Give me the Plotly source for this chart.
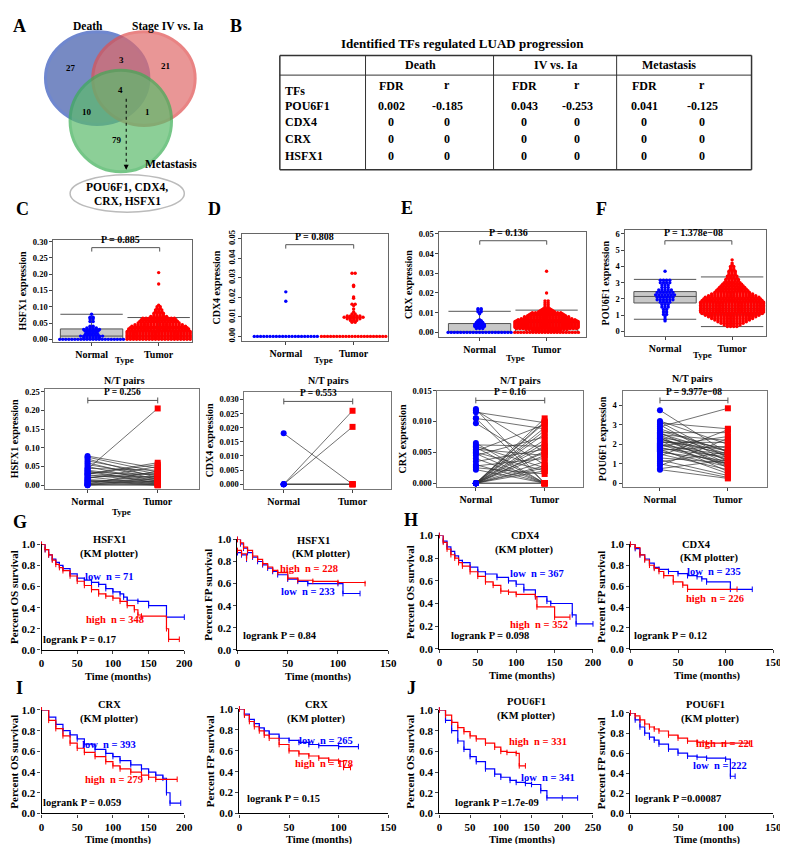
import plotly.graph_objects as go

W, H = 788, 844
FONT = "Liberation Serif"
BLUE, RED = "#0000ff", "#ff0000"

# ---------------- A: Venn ----------------
venn_labels = ["Death", "Stage IV vs. Ia", "Metastasis"]
venn_regions = [27, 21, 79, 3, 10, 1, 4]  # D, S, M, D&S, D&M, S&M, all three
venn_common = ["POU6F1, CDX4,", "CRX, HSFX1"]

# ---------------- B: table ----------------
tbl_title = "Identified TFs regulated LUAD progression"
tbl_groups = ["Death", "IV vs. Ia", "Metastasis"]
tbl_tfs = ["POU6F1", "CDX4", "CRX", "HSFX1"]
tbl_fdr = [[0.002, 0.043, 0.041], [0, 0, 0], [0, 0, 0], [0, 0, 0]]
tbl_r = [[-0.185, -0.253, -0.125], [0, 0, 0], [0, 0, 0], [0, 0, 0]]

# ---------------- C-F: expression (value level, number of samples) ----------------
hsfx1_n_lv = [0.0, 0.005, 0.01, 0.015, 0.02, 0.025, 0.03, 0.035, 0.04, 0.055, 0.063, 0.068, 0.077]
hsfx1_n_ct = [22, 6, 8, 5, 4, 5, 6, 4, 2, 2, 2, 2, 1]
hsfx1_t_lv = [0.0, 0.004, 0.008, 0.012, 0.016, 0.02, 0.024, 0.028, 0.032, 0.036, 0.04, 0.045, 0.05,
              0.055, 0.06, 0.065, 0.07, 0.075, 0.08, 0.085, 0.09, 0.095, 0.1, 0.105, 0.17, 0.205]
hsfx1_t_ct = [21, 21, 21, 21, 21, 21, 21, 20, 20, 19, 18, 16, 14, 13, 12, 11, 6, 4, 4, 3, 3, 2, 2, 1, 1, 1]
hsfx1_box_n = [0.0, 0.0, 0.01, 0.032, 0.077]   # lower, q1, median, q3, upper
hsfx1_box_t = [0.0, 0.0, 0.01, 0.028, 0.067]

cdx4_n_lv = [0.0, 0.018, 0.0228]
cdx4_n_ct = [21, 1, 1]
cdx4_t_lv = [0.0, 0.0072, 0.0082, 0.009, 0.0098, 0.0105, 0.0115, 0.0125, 0.014, 0.0158, 0.0165,
             0.0195, 0.0202, 0.0255, 0.0262, 0.0323]
cdx4_t_ct = [22, 2, 3, 5, 7, 5, 2, 1, 1, 1, 2, 1, 1, 1, 1, 2]

crx_n_lv = [0.0, 0.002, 0.0025, 0.003, 0.0035, 0.004, 0.0045, 0.005, 0.0055, 0.006, 0.0065,
            0.0095, 0.0105, 0.0115, 0.012]
crx_n_ct = [21, 3, 3, 4, 4, 4, 3, 3, 2, 2, 1, 1, 2, 2, 2]
crx_t_lv = [0.0, 0.0005, 0.001, 0.0015, 0.002, 0.0025, 0.003, 0.0035, 0.004, 0.0045, 0.005, 0.0055,
            0.006, 0.0065, 0.007, 0.0075, 0.008, 0.0085, 0.009, 0.0095, 0.01, 0.0105, 0.011, 0.0115,
            0.012, 0.013, 0.014, 0.015, 0.016, 0.02, 0.031]
crx_t_ct = [22, 6, 10, 14, 20, 21, 21, 21, 21, 21, 21, 21, 20, 19, 17, 15, 15, 13, 12, 11, 10, 6, 5, 4,
            3, 2, 2, 2, 2, 1, 1]
crx_box_n = [0.0, 0.0, 0.0, 0.0045, 0.0107]
crx_box_t = [0.0, 0.0, 0.0025, 0.005, 0.0113]

pou_n_lv = [0.65, 0.75, 0.9, 1.05, 1.2, 1.35, 1.5, 1.65, 1.8, 1.95, 2.1, 2.25, 2.4, 2.55, 2.7, 2.85,
            3.0, 3.15, 3.7]
pou_n_ct = [1, 1, 1, 2, 2, 2, 3, 3, 4, 6, 6, 7, 6, 5, 3, 3, 4, 4, 1]
pou_t_lv = [0.3, 0.4, 0.5, 0.6, 0.7, 0.8, 0.9, 1.0, 1.1, 1.2, 1.3, 1.4, 1.5, 1.6, 1.7, 1.8, 1.9, 2.0,
            2.1, 2.2, 2.3, 2.4, 2.5, 2.6, 2.7, 2.8, 2.9, 3.0, 3.1, 3.2, 3.3, 3.4, 3.5, 3.6, 3.7, 3.8,
            3.9, 4.0, 4.1, 4.2, 4.4]
pou_t_ct = [4, 6, 8, 10, 12, 14, 16, 18, 20, 21, 21, 21, 21, 21, 21, 21, 20, 19, 18, 16, 14, 12, 11,
            10, 9, 8, 7, 6, 5, 5, 4, 4, 3, 3, 3, 2, 2, 2, 1, 1, 1]
pou_box_n = [0.75, 1.75, 2.15, 2.45, 3.2]
pou_box_t = [0.3, 1.05, 1.4, 1.85, 3.35]

# ---------------- paired normal / tumour ----------------
hsfx1_pair_n = [0.078, 0.075, 0.070, 0.065, 0.060, 0.055, 0.050, 0.045, 0.043, 0.040, 0.038, 0.035,
                0.033, 0.030, 0.028, 0.025, 0.022, 0.020, 0.018, 0.015, 0.013, 0.010, 0.008, 0.006,
                0.004, 0.003, 0.002, 0.001, 0.000, 0.000, 0.030, 0.012]
hsfx1_pair_t = [0.045, 0.035, 0.020, 0.030, 0.015, 0.025, 0.010, 0.040, 0.205, 0.018, 0.005, 0.028,
                0.012, 0.060, 0.008, 0.022, 0.003, 0.033, 0.050, 0.006, 0.002, 0.015, 0.025, 0.010,
                0.001, 0.038, 0.004, 0.020, 0.000, 0.012, 0.055, 0.000]
cdx4_pair_n = [0.018, 0.0, 0.0, 0.0, 0.0, 0.0]
cdx4_pair_t = [0.0, 0.026, 0.0203, 0.0, 0.0, 0.0]
crx_pair_n = [0.012, 0.0118, 0.0115, 0.0105, 0.0097, 0.0065, 0.0062, 0.0058, 0.0055, 0.0052, 0.005,
              0.0048, 0.0045, 0.004, 0.0035, 0.003, 0.0028, 0.0025, 0.0022, 0.0, 0.0, 0.0, 0.0, 0.0,
              0.0, 0.0, 0.0, 0.0, 0.0, 0.0, 0.0, 0.0, 0.0, 0.0, 0.0, 0.0, 0.0, 0.0105, 0.006]
crx_pair_t = [0.0, 0.005, 0.0098, 0.0, 0.003, 0.0, 0.006, 0.0, 0.0045, 0.0095, 0.002, 0.0, 0.0075,
              0.0, 0.0055, 0.0, 0.004, 0.0015, 0.0, 0.0105, 0.01, 0.0098, 0.009, 0.0085, 0.008, 0.007,
              0.0065, 0.006, 0.005, 0.0045, 0.0035, 0.0025, 0.002, 0.0, 0.0, 0.0052, 0.0028, 0.0088,
              0.0025]
pou_pair_n = [3.75, 3.2, 3.15, 3.1, 2.9, 3.0, 2.8, 2.6, 2.5, 2.45, 2.4, 2.35, 2.3, 2.25, 2.2, 2.15,
              2.1, 2.05, 2.0, 1.95, 1.9, 1.8, 1.75, 1.7, 1.6, 1.5, 1.4, 1.3, 1.2, 1.1, 1.0, 0.9, 0.75,
              0.7, 2.55, 2.6, 1.85, 2.3, 2.7, 1.65]
pou_pair_t = [1.55, 2.0, 1.3, 2.8, 3.85, 1.1, 1.6, 1.0, 2.2, 1.4, 0.8, 1.8, 1.2, 1.5, 0.6, 1.7, 2.1,
              1.25, 0.9, 1.45, 2.4, 1.35, 0.5, 1.9, 1.15, 0.7, 2.75, 1.05, 0.4, 1.6, 0.3, 2.3, 1.2,
              0.25, 1.5, 2.6, 1.0, 0.95, 1.65, 0.85]

# ---------------- G-J: Kaplan-Meier (time in months, survival) ----------------
hsfx1_os_low_t = [0, 5, 10, 15, 20, 25, 30, 40, 50, 60, 70, 80, 90, 100, 110, 115, 120, 135, 150, 175, 200]
hsfx1_os_low_s = [1.0, 0.95, 0.9, 0.86, 0.83, 0.8, 0.77, 0.72, 0.68, 0.66, 0.64, 0.62, 0.58, 0.55,
                  0.53, 0.5, 0.47, 0.46, 0.42, 0.31, 0.31]
hsfx1_os_high_t = [0, 5, 10, 15, 20, 25, 30, 40, 50, 60, 70, 80, 90, 100, 110, 120, 130, 135, 140, 175, 178, 193]
hsfx1_os_high_s = [1.0, 0.95, 0.9, 0.85, 0.81, 0.78, 0.75, 0.7, 0.65, 0.61, 0.57, 0.53, 0.51, 0.49,
                   0.46, 0.42, 0.38, 0.33, 0.32, 0.2, 0.1, 0.1]
hsfx1_fp_high_t = [0, 3, 6, 10, 15, 20, 25, 30, 35, 40, 50, 60, 75, 100, 127]
hsfx1_fp_high_s = [1.0, 0.97, 0.93, 0.9, 0.85, 0.82, 0.78, 0.75, 0.72, 0.7, 0.65, 0.63, 0.62, 0.61, 0.6]
hsfx1_fp_low_t = [0, 3, 6, 10, 15, 20, 25, 30, 35, 40, 50, 60, 70, 100, 105, 122]
hsfx1_fp_low_s = [1.0, 0.96, 0.92, 0.88, 0.84, 0.8, 0.77, 0.74, 0.71, 0.68, 0.64, 0.62, 0.6, 0.6, 0.51, 0.51]
hsfx1_fp_high2_t = [0, 4, 9]
hsfx1_fp_high2_s = [0.9, 0.87, 0.83]
hsfx1_fp_low2_t = [0, 4, 9]
hsfx1_fp_low2_s = [0.88, 0.86, 0.82]

cdx4_os_low_t = [0, 5, 10, 15, 20, 25, 30, 40, 50, 60, 75, 90, 100, 110, 125, 140, 145, 173, 178, 200]
cdx4_os_low_s = [1.0, 0.95, 0.9, 0.86, 0.82, 0.78, 0.76, 0.72, 0.68, 0.66, 0.63, 0.6, 0.57, 0.52,
                 0.46, 0.42, 0.4, 0.3, 0.22, 0.22]
cdx4_os_high_t = [0, 5, 10, 15, 20, 25, 30, 40, 50, 60, 70, 80, 90, 100, 125, 127, 150, 170]
cdx4_os_high_s = [1.0, 0.94, 0.88, 0.83, 0.8, 0.76, 0.73, 0.68, 0.64, 0.59, 0.56, 0.51, 0.5, 0.48,
                  0.46, 0.37, 0.28, 0.28]
cdx4_fp_low_t = [0, 5, 10, 15, 20, 25, 30, 40, 50, 60, 70, 75, 80, 105, 128]
cdx4_fp_low_s = [1.0, 0.96, 0.9, 0.86, 0.82, 0.78, 0.76, 0.74, 0.72, 0.7, 0.69, 0.67, 0.64, 0.57, 0.57]
cdx4_fp_high_t = [0, 5, 10, 15, 20, 25, 30, 35, 45, 55, 60, 112]
cdx4_fp_high_s = [1.0, 0.97, 0.9, 0.85, 0.8, 0.77, 0.74, 0.7, 0.64, 0.61, 0.57, 0.57]

crx_os_low_t = [0, 10, 20, 30, 40, 50, 60, 75, 90, 100, 110, 125, 140, 150, 160, 170, 175, 180, 195]
crx_os_low_s = [1.0, 0.93, 0.86, 0.8, 0.76, 0.72, 0.67, 0.62, 0.58, 0.55, 0.51, 0.47, 0.43, 0.4,
                0.37, 0.34, 0.2, 0.1, 0.1]
crx_os_high_t = [0, 10, 20, 30, 40, 50, 60, 75, 90, 100, 110, 125, 140, 150, 160, 190]
crx_os_high_s = [1.0, 0.9, 0.82, 0.75, 0.68, 0.63, 0.59, 0.55, 0.5, 0.46, 0.43, 0.4, 0.37, 0.35, 0.33, 0.33]
crx_fp_low_t = [0, 5, 10, 15, 20, 25, 30, 40, 50, 60, 70, 80, 100, 120]
crx_fp_low_s = [1.0, 0.95, 0.9, 0.86, 0.82, 0.79, 0.76, 0.72, 0.7, 0.68, 0.66, 0.65, 0.64, 0.64]
crx_fp_high_t = [0, 5, 10, 15, 20, 25, 30, 40, 50, 60, 70, 80, 90, 100, 105, 112]
crx_fp_high_s = [1.0, 0.94, 0.88, 0.83, 0.79, 0.75, 0.72, 0.66, 0.6, 0.57, 0.55, 0.53, 0.51, 0.5, 0.44, 0.44]

pou_os_high_t = [0, 10, 20, 30, 40, 50, 60, 75, 90, 100, 110, 125, 130, 140]
pou_os_high_s = [1.0, 0.95, 0.88, 0.83, 0.79, 0.75, 0.72, 0.68, 0.64, 0.6, 0.59, 0.58, 0.46, 0.46]
pou_os_low_t = [0, 10, 20, 30, 40, 50, 60, 75, 90, 100, 115, 125, 140, 150, 165, 175, 200, 225]
pou_os_low_s = [1.0, 0.9, 0.8, 0.7, 0.62, 0.55, 0.5, 0.43, 0.38, 0.35, 0.32, 0.3, 0.29, 0.28, 0.22,
                0.15, 0.15, 0.15]
pou_fp_high_t = [0, 5, 10, 15, 20, 25, 30, 40, 50, 60, 70, 80, 100, 125]
pou_fp_high_s = [1.0, 0.97, 0.93, 0.89, 0.86, 0.84, 0.82, 0.78, 0.75, 0.72, 0.71, 0.7, 0.7, 0.7]
pou_fp_low_t = [0, 5, 10, 15, 20, 25, 30, 40, 50, 60, 70, 80, 100, 105, 110]
pou_fp_low_s = [1.0, 0.93, 0.86, 0.8, 0.76, 0.73, 0.69, 0.64, 0.6, 0.57, 0.56, 0.55, 0.54, 0.37, 0.37]


def fnt(size, color="black"):
    return dict(family=FONT, size=size, color=color, weight="bold")


fig = go.Figure()
anns, shapes = [], []


def text(s, x, y, size, color="black", xanchor="center", yanchor="middle", angle=0):
    anns.append(dict(text=s, x=x / W, y=1 - y / H, xref="paper", yref="paper", showarrow=False,
                     font=fnt(size, color), xanchor=xanchor, yanchor=yanchor, textangle=angle))


def pline(x0, y0, x1, y1, color="black", width=1, dash="solid"):
    shapes.append(dict(type="line", xref="paper", yref="paper", x0=x0 / W, x1=x1 / W,
                       y0=1 - y0 / H, y1=1 - y1 / H, line=dict(color=color, width=width, dash=dash)))


def pcircle(x0, y0, x1, y1, fill, edge, width=3, opacity=1.0):
    shapes.append(dict(type="circle", xref="paper", yref="paper", x0=x0 / W, x1=x1 / W,
                       y0=1 - y1 / H, y1=1 - y0 / H, fillcolor=fill, opacity=opacity,
                       line=dict(color=edge, width=width), layer="below"))


def refs(i):
    return ("x", "y") if i == 1 else (f"x{i}", f"y{i}")


def set_axes(i, xpx, ypx, xr, yr, xkw, ykw):
    xn = "xaxis" if i == 1 else f"xaxis{i}"
    yn = "yaxis" if i == 1 else f"yaxis{i}"
    xa, ya = refs(i)
    fig.update_layout(**{
        xn: dict(domain=[xpx[0] / W, xpx[1] / W], range=list(xr), anchor=ya, showgrid=False,
                 zeroline=False, **xkw),
        yn: dict(domain=[1 - ypx[1] / H, 1 - ypx[0] / H], range=list(yr), anchor=xa, showgrid=False,
                 zeroline=False, **ykw),
    })


def swarm(center, levels, counts, dx, maxw):
    xs, ys = [], []
    for v, n in zip(levels, counts):
        step = dx if (n - 1) * dx <= maxw else maxw / (n - 1)
        for k in range(n):
            xs.append(center + (k - (n - 1) / 2) * step)
            ys.append(v)
    return xs, ys


# ---------------- A ----------------
text("A", 9, 12, 18)
pcircle(35, 18, 140, 112, "#4a64b0", "#3f5fc0", opacity=0.75)
pcircle(83, 18, 187, 113, "#e06a6a", "#e05050", opacity=0.7)
pcircle(60, 57, 163, 160, "#5cbb6c", "#3cae55", opacity=0.7)
text(venn_labels[0], 78, 12, 11.5)
text(venn_labels[1], 159, 13, 11.5)
text(venn_labels[2], 162, 152, 11.5)
for v, (x, y) in zip(venn_regions, [(61, 55), (157, 53), (108, 128), (112, 47), (77, 99), (139, 99), (111, 77)]):
    text(str(v), x, y, 9)
pline(117, 86, 117, 154, dash="dot", width=1)
anns.append(dict(x=117 / W, y=1 - 158 / H, xref="paper", yref="paper", text="", showarrow=True,
                 arrowhead=2, arrowsize=1, arrowwidth=1, ax=0, ay=-6, arrowcolor="black"))
pcircle(60, 163, 176, 201, "rgba(0,0,0,0)", "#bbbbbb", width=1.5)
text(venn_common[0], 118, 175, 11.5)
text(venn_common[1], 118, 190, 11.5)

# ---------------- B ----------------
text("B", 228, 12, 18)
L, R = 273, 752
V = [360, 490, 615]
T, HL, B = 42, 62, 158
text(tbl_title, 458, 30, 13)
pline(L, T, R, T, "#333", 1.5)
pline(L, HL, R, HL, "#333", 1)
pline(L, B, R, B, "#333", 1.5)
pline(L, T, L, B, "#333", 1.5)
pline(R, T, R, B, "#333", 1.5)
for v in V:
    pline(v, T, v, B, "#333", 1)
grp_x = [416, 553, 668]
fdr_x = [386, 521, 643]
r_x = [443, 575, 702]
for g, gx in zip(tbl_groups, grp_x):
    text(g, gx, 52, 12)
for fx, rx in zip(fdr_x, r_x):
    text("FDR", fx, 73, 12)
    text("r", rx, 72, 12)
text("TFs", L + 3, 78, 12, xanchor="left")
row_y = [93, 110, 127, 144]
for tf, fr, rr, ry in zip(tbl_tfs, tbl_fdr, tbl_r, row_y):
    text(tf, L + 3, ry, 12, xanchor="left")
    for j in range(3):
        text(str(fr[j]), fdr_x[j], ry, 12)
        text(str(rr[j]), r_x[j], ry, 12)

# ---------------- C-F swarm plots ----------------
swarm_panels = [
    dict(i=1, xpx=(43, 184), ypx=(229, 333), xr=(-0.57, 1.5), yr=(-0.009, 0.306),
         yt="HSFX1 expression", dt=0.05, fmt=".2f", ang=0,
         n=(hsfx1_n_lv, hsfx1_n_ct), t=(hsfx1_t_lv, hsfx1_t_ct), bn=hsfx1_box_n, bt=hsfx1_box_t,
         p="P = 0.885", br=(82, 151, 237), letter=("C", 12, 198), typ=(115, 351)),
    dict(i=2, xpx=(235, 383), ypx=(223, 332), xr=(-0.64, 1.51), yr=(-0.0025, 0.0525),
         yt="CDX4 expression", dt=0.01, fmt=".2f", ang=-90,
         n=(cdx4_n_lv, cdx4_n_ct), t=(cdx4_t_lv, cdx4_t_ct), bn=None, bt=None,
         p="P = 0.808", br=(279, 348, 234), letter=("D", 207, 198), typ=(317, 351)),
    dict(i=3, xpx=(435, 584), ypx=(221, 328), xr=(-0.6, 1.59), yr=(-0.0025, 0.051),
         yt="CRX expression", dt=0.01, fmt=".2f", ang=0,
         n=(crx_n_lv, crx_n_ct), t=(crx_t_lv, crx_t_ct), bn=crx_box_n, bt=crx_box_t,
         p="P = 0.136", br=(476, 544, 230), letter=("E", 402, 197), typ=(512, 349)),
    dict(i=4, xpx=(624, 767), ypx=(219, 327), xr=(-0.59, 1.51), yr=(-0.3, 6.24),
         yt="POU6F1 expression", dt=1, fmt="d", ang=0,
         n=(pou_n_lv, pou_n_ct), t=(pou_t_lv, pou_t_ct), bn=pou_box_n, bt=pou_box_t,
         p="P = 1.378e\u221208", br=(664, 732, 230), letter=("F", 600, 198), typ=(702, 346)),
]

for sp in swarm_panels:
    i = sp["i"]
    xa, ya = refs(i)
    upp = (sp["xr"][1] - sp["xr"][0]) / (sp["xpx"][1] - sp["xpx"][0])  # data units per px
    set_axes(i, sp["xpx"], sp["ypx"], sp["xr"], sp["yr"],
             dict(tickvals=[0, 1], ticktext=["Normal", "Tumor"], tickfont=fnt(10), ticks="outside",
                  ticklen=3, showline=True, mirror=True, linecolor="#666", linewidth=1),
             dict(dtick=sp["dt"], tick0=0, tickformat=sp["fmt"], tickfont=fnt(8.5), ticks="outside",
                  ticklen=3, tickangle=sp["ang"], showline=True, mirror=True, linecolor="#666",
                  linewidth=1, title=dict(text=sp["yt"], font=fnt(10), standoff=4)))
    for c, box in ((0, sp["bn"]), (1, sp["bt"])):
        if box is None:
            continue
        fig.add_trace(go.Box(x=[c], lowerfence=[box[0]], q1=[box[1]], median=[box[2]], q3=[box[3]],
                             upperfence=[box[4]], width=0.93, whiskerwidth=1, fillcolor="#c8c8c8",
                             line=dict(color="#555", width=1), boxpoints=False, xaxis=xa, yaxis=ya,
                             showlegend=False, hoverinfo="skip"))
    for c, (lv, ct), col in ((0, sp["n"], BLUE), (1, sp["t"], RED)):
        xs, ys = swarm(c, lv, ct, 3.2 * upp, 0.95)
        fig.add_trace(go.Scatter(x=xs, y=ys, mode="markers", xaxis=xa, yaxis=ya, showlegend=False,
                                 marker=dict(color=col, size=3.4, line=dict(width=0)),
                                 hoverinfo="skip", cliponaxis=False))
    x0, x1, yb = sp["br"]
    pline(x0, yb, x1, yb, "#555", 1)
    pline(x0, yb, x0, yb + 4, "#555", 1)
    pline(x1, yb, x1, yb + 4, "#555", 1)
    text(sp["p"], (x0 + x1) / 2 - 5, yb - 1, 10, yanchor="bottom")
    text(sp["letter"][0], sp["letter"][1], sp["letter"][2], 18)
    text("Type", sp["typ"][0], sp["typ"][1], 9)

# ---------------- paired plots ----------------
pair_panels = [
    dict(i=5, xpx=(35, 191), ypx=(380, 482), xr=(-0.6, 1.59), yr=(-0.0105, 0.258),
         yt="HSFX1 expression", dt=0.05, fmt=".2f", n=hsfx1_pair_n, t=hsfx1_pair_t,
         p="P = 0.256", br=(78, 149, 392), title=(115, 372)),
    dict(i=6, xpx=(237, 386), ypx=(383, 482), xr=(-0.57, 1.56), yr=(-0.00174, 0.0328),
         yt="CDX4 expression", dt=0.005, fmt=".3f", n=cdx4_pair_n, t=cdx4_pair_t,
         p="P = 0.553", br=(277, 347, 393), title=(322, 372)),
    dict(i=7, xpx=(433, 581), ypx=(382, 480), xr=(-0.56, 1.56), yr=(-0.00064, 0.015),
         yt="CRX expression", dt=0.005, fmt=".3f", n=crx_pair_n, t=crx_pair_t,
         p="P = 0.16", br=(472, 542, 392), title=(517, 372)),
    dict(i=8, xpx=(621, 768), ypx=(382, 480), xr=(-0.55, 1.58), yr=(-0.2, 4.76),
         yt="POU6F1 expression", dt=1, fmt="d", n=pou_pair_n, t=pou_pair_t,
         p="P = 9.977e\u221208", br=(659, 728, 392), title=(692, 370)),
]

for pp in pair_panels:
    i = pp["i"]
    xa, ya = refs(i)
    set_axes(i, pp["xpx"], pp["ypx"], pp["xr"], pp["yr"],
             dict(tickvals=[0, 1], ticktext=["Normal", "Tumor"], tickfont=fnt(10), ticks="outside",
                  ticklen=3, showline=True, mirror=True, linecolor="#777", linewidth=1),
             dict(dtick=pp["dt"], tick0=0, tickformat=pp["fmt"], tickfont=fnt(8.5), ticks="outside",
                  ticklen=3, showline=True, mirror=True, linecolor="#777", linewidth=1,
                  title=dict(text=pp["yt"], font=fnt(10), standoff=4)))
    lx, ly = [], []
    for a, b in zip(pp["n"], pp["t"]):
        lx += [0, 1, None]
        ly += [a, b, None]
    fig.add_trace(go.Scatter(x=lx, y=ly, mode="lines", line=dict(color="#333", width=0.7),
                             xaxis=xa, yaxis=ya, showlegend=False, hoverinfo="skip"))
    fig.add_trace(go.Scatter(x=[0] * len(pp["n"]), y=pp["n"], mode="markers", xaxis=xa, yaxis=ya,
                             marker=dict(color=BLUE, size=6, symbol="circle"), showlegend=False,
                             hoverinfo="skip", cliponaxis=False))
    fig.add_trace(go.Scatter(x=[1] * len(pp["t"]), y=pp["t"], mode="markers", xaxis=xa, yaxis=ya,
                             marker=dict(color=RED, size=6, symbol="square"), showlegend=False,
                             hoverinfo="skip", cliponaxis=False))
    x0, x1, yb = pp["br"]
    pline(x0, yb, x1, yb, "#555", 1)
    pline(x0, yb - 3, x0, yb + 3, "#555", 1)
    pline(x1, yb - 3, x1, yb + 3, "#555", 1)
    text(pp["p"], (x0 + x1) / 2, yb - 1, 9.5, yanchor="bottom")
    text("N/T pairs", pp["title"][0], pp["title"][1], 10)
text("Type", 112, 505, 9)

# ---------------- KM plots ----------------
km_panels = [
    dict(i=9, xpx=(31, 176), ypx=(538, 645), xr=(0, 200), yt="Percent OS survival",
         curves=[(hsfx1_os_low_t, hsfx1_os_low_s, BLUE), (hsfx1_os_high_t, hsfx1_os_high_s, RED)],
         labels=[("HSFX1", 100, 533, "black"), ("(KM plotter)", 100, 548, "black"),
                 ("low  n = 71", 100, 571, BLUE), ("high  n = 348", 106, 614, RED),
                 ("logrank P = 0.17", 70, 635, "black")]),
    dict(i=10, xpx=(230, 383), ypx=(533, 645), xr=(0, 150), yt="Percent FP survival",
         curves=[(hsfx1_fp_low_t, hsfx1_fp_low_s, BLUE), (hsfx1_fp_high_t, hsfx1_fp_high_s, RED),
                 (hsfx1_fp_low2_t, hsfx1_fp_low2_s, BLUE), (hsfx1_fp_high2_t, hsfx1_fp_high2_s, RED)],
         labels=[("HSFX1", 307, 534, "black"), ("(KM plotter)", 315, 548, "black"),
                 ("high  n = 228", 303, 562, RED), ("low  n = 233", 302, 586, BLUE),
                 ("logrank P = 0.84", 273, 630, "black")]),
    dict(i=11, xpx=(435, 591), ypx=(529, 644), xr=(0, 200), yt="Percent OS survival",
         curves=[(cdx4_os_low_t, cdx4_os_low_s, BLUE), (cdx4_os_high_t, cdx4_os_high_s, RED)],
         labels=[("CDX4", 522, 529, "black"), ("(KM plotter)", 521, 544, "black"),
                 ("low  n = 367", 534, 568, BLUE), ("high  n = 352", 536, 619, RED),
                 ("logrank P = 0.098", 486, 630, "black")]),
    dict(i=12, xpx=(629, 774), ypx=(538, 644), xr=(0, 150), yt="Percent FP survival",
         curves=[(cdx4_fp_low_t, cdx4_fp_low_s, BLUE), (cdx4_fp_high_t, cdx4_fp_high_s, RED)],
         labels=[("CDX4", 696, 538, "black"), ("(KM plotter)", 709, 552, "black"),
                 ("low  n = 235", 714, 566, BLUE), ("high  n = 226", 715, 593, RED),
                 ("logrank P = 0.12", 670, 630, "black")]),
    dict(i=13, xpx=(31, 176), ypx=(706, 811), xr=(0, 200), yt="Percent OS survival",
         curves=[(crx_os_low_t, crx_os_low_s, BLUE), (crx_os_high_t, crx_os_high_s, RED)],
         labels=[("CRX", 100, 700, "black"), ("(KM plotter)", 100, 715, "black"),
                 ("low  n = 393", 100, 741, BLUE), ("high  n = 279", 105, 777, RED),
                 ("logrank P = 0.059", 72, 800, "black")]),
    dict(i=14, xpx=(232, 383), ypx=(705, 811), xr=(0, 150), yt="Percent FP survival",
         curves=[(crx_fp_low_t, crx_fp_low_s, BLUE), (crx_fp_high_t, crx_fp_high_s, RED)],
         labels=[("CRX", 310, 700, "black"), ("(KM plotter)", 310, 715, "black"),
                 ("low  n = 265", 320, 737, BLUE), ("high  n = 178", 318, 760, RED),
                 ("logrank P = 0.15", 277, 796, "black")]),
    dict(i=15, xpx=(435, 591), ypx=(706, 811), xr=(0, 250), yt="Percent OS survival",
         curves=[(pou_os_low_t, pou_os_low_s, BLUE), (pou_os_high_t, pou_os_high_s, RED)],
         labels=[("POU6F1", 523, 697, "black"), ("(KM plotter)", 523, 712, "black"),
                 ("high  n = 331", 535, 738, RED), ("low  n = 341", 545, 775, BLUE),
                 ("logrank P =1.7e-09", 494, 800, "black")]),
    dict(i=16, xpx=(629, 774), ypx=(709, 811), xr=(0, 150), yt="Percent FP survival",
         curves=[(pou_fp_low_t, pou_fp_low_s, BLUE), (pou_fp_high_t, pou_fp_high_s, RED)],
         labels=[("POU6F1", 705, 700, "black"), ("(KM plotter)", 710, 715, "black"),
                 ("high  n = 221", 725, 740, RED), ("low  n = 222", 720, 762, BLUE),
                 ("logrank P =0.00087", 677, 796, "black")]),
]

for kp in km_panels:
    i = kp["i"]
    xa, ya = refs(i)
    set_axes(i, kp["xpx"], kp["ypx"], kp["xr"], (0, 1),
             dict(dtick=50, tick0=0, tickfont=fnt(11), ticks="outside", ticklen=3, showline=True,
                  linecolor="black", linewidth=1.3),
             dict(dtick=0.2, tick0=0, tickformat=".1f", tickfont=fnt(11), ticks="outside", ticklen=3,
                  showline=True, linecolor="black", linewidth=1.3,
                  title=dict(text=kp["yt"], font=fnt(11), standoff=2)))
    for t, s, col in kp["curves"]:
        fig.add_trace(go.Scatter(x=t, y=s, mode="lines+markers", line=dict(color=col, width=1.2, shape="hv"),
                                 marker=dict(symbol="line-ns-open", size=4, color=col, line=dict(width=1, color=col)),
                                 xaxis=xa, yaxis=ya, showlegend=False, hoverinfo="skip", cliponaxis=False))
    for s, x, y, col in kp["labels"]:
        text(s, x, y, 10.5, col)
    text("Time (months)", (kp["xpx"][0] + kp["xpx"][1]) / 2 + 6, kp["ypx"][1] + 19, 10.5, yanchor="top")

for s, x, y in [("G", 9, 515), ("H", 406, 513), ("I", 9, 684), ("J", 407, 684)]:
    text(s, x, y, 18)

fig.update_layout(width=W, height=H, margin=dict(l=0, r=0, t=0, b=0), autosize=False,
                  paper_bgcolor="white", plot_bgcolor="white", annotations=anns, shapes=shapes,
                  font=dict(family=FONT, color="black"), showlegend=False, boxmode="overlay")
fig.write_html("out.html")
